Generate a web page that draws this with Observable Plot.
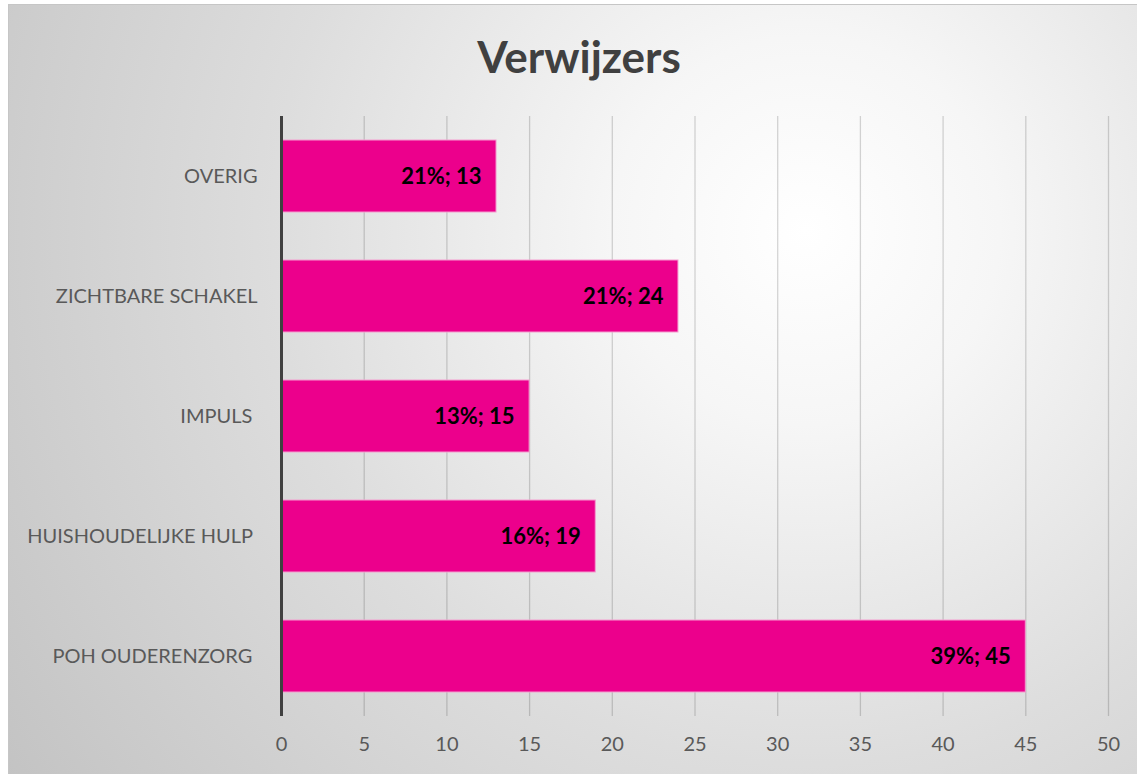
<!DOCTYPE html>
<html>
<head>
<meta charset="utf-8">
<script src="https://cdn.jsdelivr.net/npm/d3@7"></script>
<script src="https://cdn.jsdelivr.net/npm/@observablehq/plot@0.6"></script>
<style>
  html, body { margin: 0; padding: 0; background: #fff; overflow: hidden; }
  #wrap { position: relative; width: 1137px; height: 774px; }
  #bg { position: absolute; left: 8px; top: 4px; width: 1140px; height: 780px;
        border: 1.5px solid #c6c6c6; box-sizing: border-box;
        background: radial-gradient(circle at 70% 29%, #ffffff 0%, #f6f6f6 20%, #dddddd 55%, #c3c3c3 100%); }
  #title { position: absolute; left: 0; width: 1158px; top: 34px; text-align: center; line-height: 1;
           font-family: Lato, sans-serif; font-weight: bold; font-size: 44px; color: #404040; }
  #chart { position: absolute; left: 0; top: 100px; }
</style>
</head>
<body>
<div id="wrap">
  <div id="bg"></div>
  <div id="title">Verwijzers</div>
  <div id="chart"></div>
</div>
<script>
const categories = ["OVERIG", "ZICHTBARE SCHAKEL", "IMPULS ", "HUISHOUDELIJKE HULP ", "POH OUDERENZORG "];
const values = [13, 24, 15, 19, 45];
const percents = ["21%", "21%", "13%", "16%", "39%"];
const xTicks = [0, 5, 10, 15, 20, 25, 30, 35, 40, 45, 50];

const rows = categories.map((name, i) => ({name, value: values[i], pct: percents[i]}));

const chart = Plot.plot({
  width: 1137,
  height: 674,
  marginTop: 16,
  marginBottom: 58,
  marginLeft: 281,
  marginRight: 29,
  style: {background: "transparent", fontFamily: "Lato, sans-serif", fontSize: "20px", color: "#595959", overflow: "visible"},
  x: {domain: [0, 50], ticks: xTicks, label: null},
  y: {domain: categories, paddingInner: 0.4, paddingOuter: 0.2, label: null},
  marks: [
    Plot.ruleX(xTicks.filter(d => d > 0), {stroke: "#000", strokeOpacity: 0.16, strokeWidth: 1.3}),
    Plot.barX(rows, {x: "value", y: "name", fill: "#ec008c", stroke: "#f59ccf", strokeWidth: 1}),
    Plot.ruleX([0], {stroke: "#404040", strokeWidth: 3}),
    Plot.axisX({ticks: xTicks, tickSize: 0, tickPadding: 20, label: null, fontSize: 20}),
    Plot.axisY({tickSize: 0, tickPadding: 24, label: null, fontSize: 20, tickFormat: d => d.replace(/ $/, "\u00a0")}),
    Plot.text(rows, {x: "value", y: "name", text: d => `${d.pct}; ${d.value}`, textAnchor: "end", dx: -15,
                     fontWeight: "bold", fill: "#000", fontSize: 22})
  ]
});
document.getElementById("chart").appendChild(chart);
</script>
</body>
</html>
